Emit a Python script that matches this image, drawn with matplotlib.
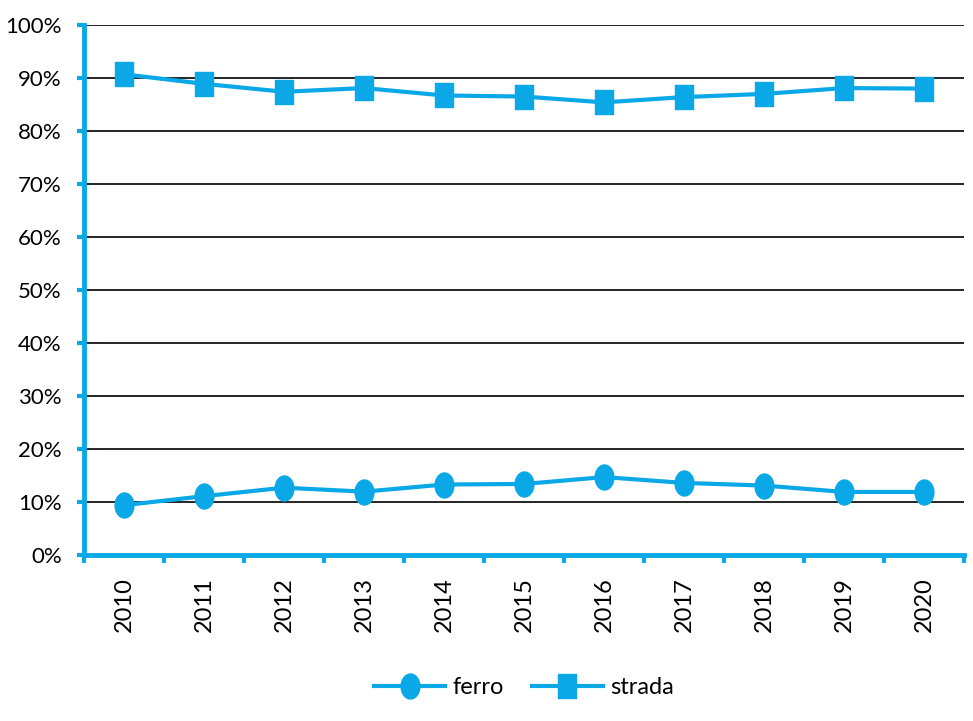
import matplotlib
matplotlib.use("Agg")
import matplotlib.pyplot as plt
from matplotlib.path import Path
import numpy as np

years = ["2010", "2011", "2012", "2013", "2014", "2015", "2016", "2017", "2018", "2019", "2020"]
ferro = [9.4, 11.1, 12.7, 11.95, 13.3, 13.4, 14.7, 13.6, 13.1, 11.9, 11.9]
strada = [90.7, 88.9, 87.4, 88.1, 86.7, 86.5, 85.4, 86.4, 87.0, 88.1, 88.0]
yticks = [0, 10, 20, 30, 40, 50, 60, 70, 80, 90, 100]

plt.rcParams['font.family'] = ['Lato', 'DejaVu Sans']

blue = '#0AA8E6'

# tall ellipse and tall rectangle markers (reference is vertically stretched)
t = np.linspace(0, 2 * np.pi, 60)
ell = Path(np.column_stack([0.75 * np.cos(t), np.sin(t)]), closed=True)
rect = Path([(-0.78, -1), (0.78, -1), (0.78, 1), (-0.78, 1), (-0.78, -1)], closed=True)

fig = plt.figure(figsize=(9.73, 7.21), dpi=100)
ax = fig.add_axes([84/973, 1-555/721, (964-84)/973, (555-25)/721])

x = np.arange(len(years))
ax.plot(x, ferro, color=blue, lw=3, marker=ell, markersize=18, label='ferro', zorder=3)
ax.plot(x, strada, color=blue, lw=3, marker=rect, markersize=17, label='strada', zorder=3)

ax.set_xlim(-0.5, len(years) - 0.5)
ax.set_ylim(0, 100)
ax.set_yticks(yticks)
ax.set_yticklabels([f"{v}%" for v in yticks], fontsize=16)
for v in yticks[1:]:
    ax.axhline(v, color='black', lw=1.2, zorder=1)

ax.set_xticks(x)
ax.set_xticklabels(years, rotation=90, fontsize=17)
ax.set_xticks(np.arange(-0.5, len(years), 1), minor=True)
ax.tick_params(axis='x', which='major', length=0, pad=16)
ax.tick_params(axis='x', which='minor', length=6, width=3, color=blue, direction='out')
ax.tick_params(axis='y', length=5, width=3, color=blue, direction='out', pad=11)

for s in ['top', 'right']:
    ax.spines[s].set_visible(False)
for s in ['left', 'bottom']:
    ax.spines[s].set_color(blue)
    ax.spines[s].set_linewidth(3.5)

leg = ax.legend(loc='upper center', bbox_to_anchor=(0.5, -0.19), ncol=2, frameon=False,
                fontsize=17, handlelength=3, columnspacing=1.2, handletextpad=0.3)

fig.savefig("out.png", dpi=100)
